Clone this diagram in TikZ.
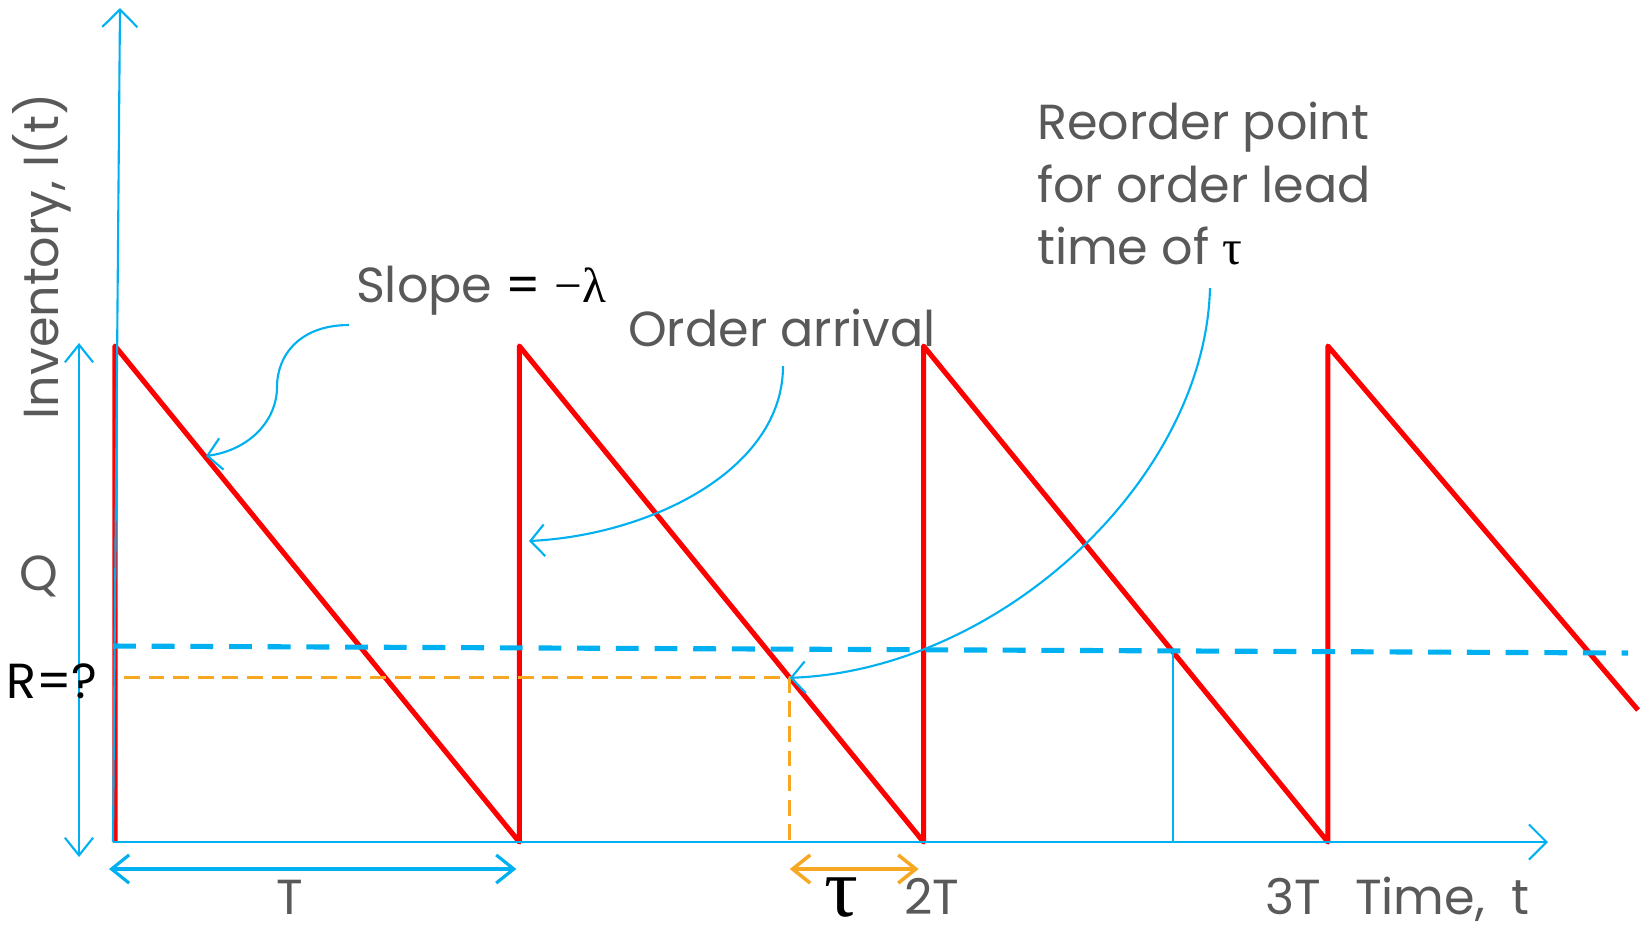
\documentclass[tikz,border=0pt]{standalone}
\usepackage{fontspec}
\setmainfont{Poppins}
\newfontfamily\greekfont{Liberation Serif}
\usetikzlibrary{arrows.meta,calc}
\definecolor{saw}{HTML}{FF0000}
\definecolor{sky}{HTML}{00B0F0}
\definecolor{lead}{HTML}{F7A823}
\definecolor{txt}{HTML}{595959}

\begin{document}
\begin{tikzpicture}[
  x=0.01cm, y=-0.01cm,
  font=\fontsize{14}{18}\selectfont,
  lbl/.style={text=txt, inner sep=1pt},
  blk/.style={text=black, inner sep=1pt},
  tick/.style={text=txt, inner sep=0pt, anchor=base},
  axis/.style={sky, line width=0.6pt, -{Straight Barb[length=5pt,width=10pt]}},
  span/.style={line width=0.9pt, {Straight Barb[length=5pt,width=8pt]}-{Straight Barb[length=5pt,width=8pt]}},
  tooth/.style={saw, line width=1.45pt, line join=round},
  rline/.style={sky, line width=1.45pt, dash pattern=on 6.5pt off 4.5pt},
  lline/.style={lead, line width=0.9pt, dash pattern=on 4.5pt off 2.5pt},
  callout/.style={sky, line width=0.6pt, -{Straight Barb[length=4pt,width=9pt]}}
]
  \useasboundingbox (0,0) rectangle (1642,932);

  % axes
  \coordinate (o) at (113,842);
  \coordinate (ytip) at (120,8);
  \coordinate (xtip) at (1548,842);

  % saw teeth
  \foreach \i in {0,1,2,3} {
    \coordinate (top\i) at (115+404.3*\i,346);
    \coordinate (bot\i) at (115+404.3*\i,842);
  }
  \coordinate (cut) at (1638,710);
  \draw[tooth] (bot0) -- (top0) -- (bot1) -- (top1) -- (bot2) -- (top2) -- (bot3) -- (top3) -- (cut);

  \draw[axis] (o) -- (ytip);
  \draw[axis] (o) -- (xtip);

  % reorder level
  \coordinate (rl0) at (113,646);
  \coordinate (rl1) at (1628,653);
  \draw[rline] (rl0) -- (rl1);
  \coordinate (rp) at ($(top1)!0.669!(bot2)$);
  \coordinate (rl2) at (rp -| 124,0);
  \draw[lline] (rl2) -- (rp) -- (rp |- o);
  \coordinate (mark) at ($(top2)!0.617!(bot3)$);
  \draw[sky, line width=0.35pt] (mark) -- (mark |- o);

  % spans
  \draw[span, sky, line width=0.6pt] (79,343) -- (79,857);
  \draw[span, sky] ($(bot0)+(-6,27)$) -- ($(bot1)+(-3,27)$);
  \draw[span, lead, line width=1pt] ($(rp |- o)+(0,27)$) -- ($(bot2)+(-5,27)$);

  % labels
  \node[lbl, rotate=90] (ylab) at (42,256) {Inventory, I(t)};
  \node[lbl] (qlab) at (39,576) {Q};
  \node[blk] (rlab) at (52,681) {R=?};
  \node[tick] (tlab) at (290,914) {T};
  \node[tick, text=black, font=\fontsize{24}{26}\selectfont\greekfont] (taulab) at (841,916) {τ};
  \node[tick] (t2lab) at (932,914) {2T};
  \node[tick] (t3lab) at (1293,914) {3T};
  \node[tick] (timelab) at (1442,914) {Time,\ \ t};
  \node[lbl] (slope) at (481,291) {Slope {\color{black}= {\greekfont −λ}}};
  \node[lbl] (arrival) at (782,328) {Order arrival};
  \node[lbl, align=left, anchor=north west, font=\fontsize{14}{17.8}\selectfont] (reorder) at (1033,98) {Reorder point\\for order lead\\time of {\color{black}\greekfont τ}};

  % callouts
  \coordinate (slopept) at (206,456);
  \coordinate (arrpt) at (529,541);
  \draw[callout] (349,325) .. controls (300,325) and (277,355) .. (277,387)
    .. controls (277,420) and (250,450) .. (slopept);
  \draw[callout] (783,366) .. controls (783,470) and (650,535) .. (arrpt);
  \draw[callout] (1210,288) .. controls (1205,480) and (1000,670) .. (rp);
\end{tikzpicture}
\end{document}
